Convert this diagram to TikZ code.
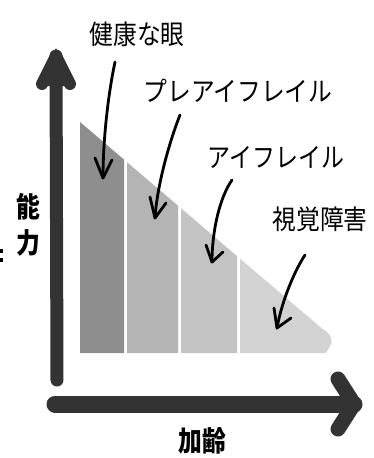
\documentclass[tikz,border=0pt]{standalone}
\usepackage{fontspec}
\usepackage{graphicx}
\newfontfamily\jp{Noto Sans CJK JP}
\newcommand{\narrowtxt}[2]{\scalebox{#1}[1]{#2}}
\begin{document}
\begin{tikzpicture}[x=1pt,y=-1pt,
  lbl/.style={font=\jp\fontsize{27}{27}\selectfont, inner sep=0pt, anchor=center},
  axlbl/.style={font=\jp\bfseries\fontsize{28}{28}\selectfont, inner sep=0pt, anchor=center},
  pointer/.style={line width=2.8pt, line cap=round, line join=round, black},
  axisline/.style={line width=13pt, color=axisgray, line cap=round, line join=round},
  col/.style={draw=none}]
\definecolor{axisgray}{HTML}{333333}
\definecolor{c1}{HTML}{8E8E8E}
\definecolor{c2}{HTML}{B4B4B4}
\definecolor{c3}{HTML}{C3C3C3}
\definecolor{c4}{HTML}{D2D2D2}
\useasboundingbox[fill=white] (0,0) rectangle (374,458);

% columns (triangle)
\fill[c1] (80,353) -- (80,122) -- (124,159.6) -- (124,353) -- cycle;
\fill[c2] (127,353) -- (127,162.2) -- (178,205.7) -- (178,353) -- cycle;
\fill[c3] (181,353) -- (181,208.3) -- (237,256.1) -- (237,353) -- cycle;
\fill[c4] (240,353) -- (240,258.6) -- (322,328.6) .. controls (330,333) and (334,340) .. (330,346) -- (326,353) -- cycle;

% axes
\coordinate (yb) at (57,380);
\coordinate (yt) at (56,56);
\coordinate (xl) at (55,404);
\coordinate (xr) at (354,404);
\draw[axisline] (yb) -- (yt);
\draw[axisline, line width=12pt] (42,84) -- (yt) -- (70,84);
\fill[axisgray] (56,48) -- (38,86) -- (74,86) -- cycle;
\draw[axisline, line width=17pt] (xl) -- (xr);
\draw[axisline, line width=15pt] (338,379) -- (xr) -- (338,429);

% labels
\node[lbl] (l1) at (137,34) {\narrowtxt{0.88}{健康な眼}};
\node[lbl] (l2) at (238,91) {\narrowtxt{0.88}{プレアイフレイル}};
\node[lbl] (l3) at (276,157) {\narrowtxt{0.85}{アイフレイル}};
\node[lbl] (l4) at (320,219) {\narrowtxt{0.88}{視覚障害}};
\node[axlbl] (ya) at (28,207) {\narrowtxt{0.85}{能}};
\node[axlbl] (yb2) at (28,243) {\narrowtxt{0.85}{力}};
\node[axlbl] (xa) at (202,441) {\narrowtxt{0.85}{加齢}};
\fill[black] (0,249) rectangle (3,253);
\fill[black] (0,258) rectangle (3,262);

% pointers
\coordinate (s1) at (115,62);  \coordinate (t1) at (103,178);
\coordinate (s2) at (180,115); \coordinate (t2) at (155,218);
\coordinate (s3) at (232,180); \coordinate (t3) at (212,262);
\coordinate (s4) at (305,255); \coordinate (t4) at (277,328);
\draw[pointer] (s1) .. controls (108,95) and (103,140) .. (t1);
\draw[pointer] (95,158) -- (t1) -- (112,160);
\draw[pointer] (s2) .. controls (170,140) and (157,185) .. (t2);
\draw[pointer] (150,197) -- (t2) -- (166,203);
\draw[pointer] (s3) .. controls (220,197) and (212,230) .. (t3);
\draw[pointer] (206,245) -- (t3) -- (223,252);
\draw[pointer] (s4) .. controls (295,270) and (282,300) .. (t4);
\draw[pointer] (274,308) -- (t4) -- (291,318);
\end{tikzpicture}
\end{document}
